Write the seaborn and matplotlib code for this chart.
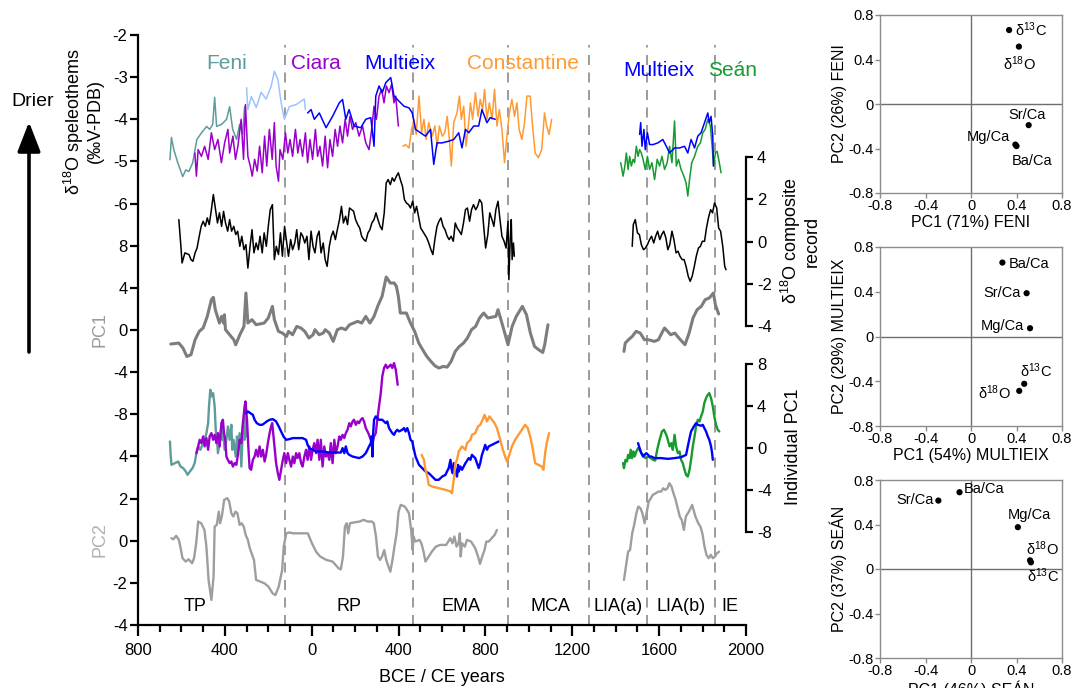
import matplotlib
matplotlib.use("Agg")
import matplotlib.pyplot as plt
import seaborn as sns
import pandas as pd
from matplotlib.transforms import blended_transform_factory as btf

sns.set_style("ticks", rc={"axes.edgecolor": "black", "xtick.color": "black",
                           "ytick.color": "black", "text.color": "black",
                           "axes.labelcolor": "black"})
plt.rcParams['font.family'] = ['Liberation Sans', 'DejaVu Sans']
plt.rcParams['axes.unicode_minus'] = False
plt.rcParams['mathtext.fontset'] = 'custom'
plt.rcParams['mathtext.rm'] = 'Liberation Sans'
plt.rcParams['mathtext.it'] = 'Liberation Sans:italic'

# ------------------------------------------------------------------ data
# delta18O speleothem records (year CE, permil)
feni_d18o = [(-653,-4.96),(-646,-4.43),(-635,-4.72),(-617,-5.03),(-594,-5.36),(-580,-5.20),(-566,-5.24),
             (-548,-5.03),(-529,-4.48),(-506,-4.31),(-484,-4.17),(-470,-4.24),(-456,-4.12),(-447,-3.48),
             (-438,-4.17),(-415,-4.12),(-392,-4.00),(-378,-3.70),(-364,-4.24),(-346,-4.48),(-332,-4.12),
             (-318,-4.36),(-309,-3.70)]
multieix_lr_d18o = [(-300,-3.25),(-294,-3.77),(-278,-3.46),(-255,-3.72),(-233,-3.36),(-210,-3.52),(-187,-3.22),
                    (-172,-2.86),(-156,-3.05),(-141,-3.60),(-126,-4.00),(-103,-3.70),(-72,-3.65),(-34,-3.52),(-29,-3.77)]
ciara_d18o = [(-538,-4.80),(-531,-5.35),(-523,-4.72),(-508,-4.88),(-493,-4.64),(-477,-4.95),(-462,-4.32),(-447,-4.72),
              (-432,-4.48),(-416,-5.03),(-401,-4.56),(-386,-4.24),(-378,-4.80),(-363,-4.40),(-351,-4.95),(-340,-4.64),
              (-325,-4.00),(-314,-4.95),(-305,-3.65),(-294,-4.88),(-283,-5.11),(-274,-5.35),(-263,-4.95),(-251,-5.23),
              (-240,-4.64),(-228,-5.27),(-217,-4.40),(-207,-5.11),(-195,-4.24),(-182,-4.95),(-172,-4.08),(-164,-5.11),
              (-153,-5.47),(-146,-4.72),(-133,-4.95),(-121,-4.32),(-110,-4.80),(-100,-4.48),(-88,-4.88),(-75,-4.24),
              (-64,-4.80),(-54,-4.48),(-42,-4.88),(-29,-4.32),(-19,-5.03),(-8,-4.48),(4,-4.95),(17,-4.24),(27,-4.88),
              (38,-4.64),(50,-5.11),(62,-4.40),(73,-5.15),(84,-4.48),(96,-4.88),(108,-4.24),(119,-4.64),(130,-4.16),
              (142,-4.56),(154,-4.00),(165,-4.40),(176,-3.93),(188,-4.24),(203,-4.08),(218,-4.40),(234,-4.16),
              (249,-4.56),(264,-4.72),(276,-4.24),(287,-3.69),(298,-4.00),(310,-3.45),(322,-3.29),(333,-3.61),
              (344,-3.21),(356,-3.37),(368,-3.17),(379,-3.61),(387,-3.45),(399,-4.16)]
multieix_d18o = [(-19,-3.85),(-3,-3.77),(12,-4.00),(35,-3.85),(66,-4.20),(96,-3.93),(127,-3.61),(142,-3.53),
                 (157,-4.00),(172,-3.77),(195,-4.16),(226,-4.20),(249,-4.00),(272,-3.96),(287,-4.64),(295,-3.45),
                 (310,-3.21),(325,-3.37),(341,-3.13),(364,-3.01),(379,-3.45),(402,-3.57),(425,-3.69),(448,-3.73),
                 (463,-3.85),(478,-4.24),(501,-4.32),(524,-4.40),(547,-4.24),(562,-5.07),(577,-4.56),(600,-4.56),
                 (631,-4.52),(654,-4.48),(677,-4.32),(692,-4.68),(708,-4.24),(723,-4.32),(746,-4.16),(769,-4.16),
                 (784,-3.77),(807,-4.08),(822,-3.96),(845,-4.00)]
constantine_d18o = [(420,-4.64),(432,-4.60),(448,-4.68),(460,-4.24),(471,-4.00),(481,-4.36),(494,-3.45),(506,-4.32),
                    (517,-4.00),(527,-4.48),(539,-4.08),(555,-4.40),(567,-4.16),(578,-4.64),(588,-4.16),(601,-4.40),
                    (613,-4.32),(624,-3.93),(634,-4.48),(643,-5.11),(654,-4.08),(669,-3.85),(680,-3.45),(689,-4.00),
                    (700,-3.69),(711,-4.64),(723,-4.08),(731,-3.61),(741,-4.00),(754,-3.37),(766,-3.93),(776,-3.53),
                    (787,-3.77),(796,-3.29),(807,-4.00),(818,-3.61),(830,-4.00),(842,-3.29),(853,-4.16),(864,-3.77),
                    (876,-4.24),(888,-5.03),(899,-4.40),(910,-3.85),(922,-3.53),(934,-3.93),(945,-3.61),(955,-4.24),
                    (968,-4.48),(980,-4.08),(991,-3.45),(1006,-3.45),(1017,-4.16),(1029,-4.80),(1044,-4.91),
                    (1059,-4.72),(1072,-3.85),(1082,-4.16),(1093,-4.36),(1105,-4.00)]
sean_d18o = [(1423,-5.03),(1434,-5.35),(1442,-5.11),(1449,-4.80),(1457,-5.19),(1464,-4.88),(1472,-5.11),(1480,-4.95),
             (1487,-5.03),(1495,-4.64),(1503,-4.88),(1510,-4.72),(1518,-4.80),(1526,-4.95),(1536,-5.19),(1546,-4.88),
             (1556,-5.19),(1567,-5.03),(1579,-5.43),(1591,-4.95),(1602,-5.11),(1613,-4.88),(1625,-5.19),(1637,-5.03),
             (1648,-4.64),(1659,-5.03),(1671,-4.04),(1679,-5.11),(1689,-4.95),(1701,-5.19),(1714,-5.35),(1724,-5.51),
             (1732,-5.82),(1740,-5.43),(1750,-5.03),(1763,-4.88),(1778,-4.64),(1790,-4.56),(1801,-4.32),(1812,-4.24),
             (1824,-4.00),(1836,-4.16),(1844,-4.64),(1851,-5.11),(1859,-4.80),(1867,-4.76),(1877,-5.03),(1885,-5.27)]
multieix2_d18o = [(1510,-4.36),(1515,-4.08),(1521,-4.64),(1530,-4.24),(1536,-4.72),(1546,-4.32),(1556,-4.60),
                  (1572,-4.60),(1594,-4.56),(1617,-4.48),(1633,-4.64),(1648,-4.80),(1671,-4.68),(1694,-4.68),
                  (1717,-4.64),(1732,-4.80),(1747,-4.48),(1763,-4.68),(1778,-4.40),(1793,-4.32),(1809,-4.08),
                  (1824,-3.85),(1831,-4.08),(1839,-3.93),(1847,-4.40),(1850,-5.11)]

# delta18O composite record
composite_a = [(-612,1.04),(-603,-0.15),(-597,-1.02),(-584,-0.54),(-565,-0.62),(-556,-0.86),(-547,-0.94),(-537,-0.54),
               (-528,-0.31),(-518,0.25),(-509,0.72),(-500,0.96),(-490,0.72),(-481,1.12),(-472,0.80),(-462,1.51),
               (-453,2.23),(-444,1.59),(-434,0.88),(-425,1.36),(-415,0.72),(-406,1.43),(-397,0.88),(-387,0.49),
               (-378,1.04),(-369,0.49),(-359,0.72),(-350,0.33),(-341,0.49),(-331,-0.23),(-322,0.25),(-312,-0.39),
               (-303,-0.15),(-294,-1.26),(-284,-0.23),(-275,0.56),(-266,-0.54),(-256,-0.07),(-247,-0.39),(-238,0.25),
               (-228,-0.54),(-219,0.41),(-209,-0.23),(-200,0.72),(-191,1.51),(-181,1.75),(-172,-0.86),(-163,-0.23),
               (-153,-0.62),(-144,0.41),(-135,-0.70),(-125,0.72),(-116,0.01),(-107,-0.70),(-97,0.09),(-88,-0.39),
               (-78,-0.07),(-69,0.56),(-60,-0.39),(-50,0.41),(-41,0.25),(-32,-0.07),(-22,0.25),(-13,-0.86),(-3,0.49),
               (6,-0.23),(15,-0.54),(25,0.25),(34,0.49),(43,-0.54),(53,-0.07),(62,-0.86),(71,-1.18),(81,-0.23),
               (90,0.25),(99,0.49),(109,0.09),(118,0.56),(128,1.04),(137,1.67),(146,0.88),(156,1.20),(165,0.80),
               (174,1.59),(184,1.51),(193,1.43),(202,1.04),(212,0.80),(221,0.64),(230,0.25),(240,0.09),(249,0.01),
               (259,0.41),(268,0.56),(277,0.88),(287,1.04),(296,1.36),(305,1.04),(315,0.72),(324,0.56),(334,1.36),
               (343,2.78),(352,2.94),(362,2.70),(371,3.02),(380,2.86),(390,3.10),(399,3.26),(408,2.94),(418,2.62),
               (427,1.99),(436,1.83),(446,1.75),(455,1.59),(465,1.91),(474,1.36),(483,1.67),(493,1.12),(502,0.64),
               (511,0.49),(521,0.33),(530,0.17),(539,-0.07),(549,-0.39),(558,-0.62),(567,0.09),(577,0.72),(586,0.96),
               (595,1.12),(605,0.72),(614,0.56),(624,0.25),(633,0.09),(642,0.25),(652,0.01),(661,0.88),(670,0.64),
               (680,0.49),(689,0.33),(699,0.88),(708,1.51),(717,1.59),(727,0.96),(736,1.51),(745,1.75),(755,1.51),
               (764,1.67),(773,1.99),(783,1.83),(792,0.72),(801,-0.31),(811,0.33),(820,1.36),(830,1.04),(839,0.72),
               (848,1.51),(858,1.91),(867,1.04),(876,0.25),(886,0.01),(895,-0.31),(904,0.96),(908,-1.81),(914,0.09),
               (919,1.04),(923,-0.86),(929,-0.07),(933,-0.70)]
composite_b = [(1476,-0.23),(1481,0.80),(1490,1.04),(1500,0.41),(1509,0.33),(1518,-0.15),(1528,-0.39),(1537,-0.31),
               (1546,-0.15),(1556,0.09),(1565,0.25),(1575,-0.07),(1584,0.25),(1593,0.49),(1603,0.09),(1612,0.33),
               (1621,0.49),(1631,0.17),(1640,-0.39),(1649,-0.15),(1659,0.49),(1668,0.09),(1678,-0.54),(1687,-0.46),
               (1696,-0.70),(1706,-0.86),(1715,-0.86),(1724,-1.18),(1734,-1.65),(1743,-1.89),(1752,-1.65),(1762,-1.18),
               (1771,-0.70),(1781,-0.31),(1790,-0.23),(1799,0.01),(1809,0.01),(1818,0.64),(1827,1.12),(1837,1.51),
               (1846,1.36),(1855,1.83),(1865,1.59),(1874,0.64),(1883,0.49),(1893,-0.23),(1902,-1.18),(1908,-1.34)]

# PC1 (stack)
pc1_a = [(-649,-1.33),(-612,-1.24),(-593,-1.71),(-575,-2.51),(-556,-2.35),(-537,-0.92),(-518,-0.13),(-500,0.19),
         (-481,1.29),(-462,2.88),(-453,3.10),(-444,1.93),(-425,0.66),(-415,1.29),(-406,0.66),(-402,1.45),(-397,0.03),
         (-378,-0.45),(-359,-0.92),(-350,-1.40),(-331,-0.45),(-312,0.34),(-303,3.51),(-294,0.66),(-275,0.98),
         (-256,0.50),(-219,0.66),(-200,1.14),(-181,2.24),(-172,0.98),(-153,-0.13),(-135,-0.29),(-116,-0.61),
         (-107,-0.13),(-88,-0.45),(-69,0.34),(-50,0.19),(-32,-0.13),(-13,-0.76),(6,-0.45),(15,0.03),(34,-0.45),
         (53,-0.29),(62,0.03),(81,-0.29),(99,-1.08),(118,0.03),(137,0.19),(156,0.03),(174,0.50),(193,0.66),
         (212,0.82),(230,0.66),(249,1.29),(268,0.66),(287,1.29),(305,2.31),(324,3.19),(343,5.03),(362,4.46),
         (380,4.46),(390,4.15),(399,3.19),(408,1.61),(436,1.61),(455,0.66),(474,-0.13),(493,-1.24),(511,-1.87),
         (530,-2.51),(549,-2.98),(567,-3.39),(586,-3.61),(605,-3.46),(624,-3.52),(642,-2.98),(661,-2.03),
         (680,-1.56),(699,-1.24),(717,-0.76),(736,0.03),(755,0.34),(773,1.14),(792,1.61),(811,1.14),(848,1.29),
         (858,1.93),(876,0.66),(904,-1.40),(923,0.34),(942,1.29),(970,2.24),(989,1.45),(1007,-0.29),(1026,-1.56),
         (1045,-1.87),(1064,-2.13),(1073,-1.40),(1088,0.50)]
pc1_b = [(1438,-2.03),(1444,-1.24),(1459,-0.92),(1476,-0.61),(1494,-0.13),(1513,-0.29),(1532,-0.92),(1550,-0.92),
         (1578,-1.08),(1597,-0.92),(1616,-0.13),(1625,0.19),(1653,-0.45),(1672,-0.29),(1691,-0.76),(1719,-1.40),
         (1738,-0.29),(1756,1.14),(1775,1.93),(1794,2.24),(1812,2.88),(1831,3.04),(1850,3.51),(1859,2.40),(1874,1.52)]

# PC2 (stack)
pc2_a = [(-646,0.12),(-637,0.07),(-624,0.23),(-612,0.04),(-605,-0.28),(-595,-0.83),(-580,-0.99),(-567,-0.88),
         (-551,-1.07),(-542,-0.83),(-532,-0.12),(-523,0.91),(-509,0.83),(-494,0.51),(-485,-0.28),(-475,-1.86),
         (-462,-2.81),(-452,-1.70),(-447,0.67),(-437,0.75),(-428,1.38),(-422,0.83),(-414,1.15),(-403,1.94),
         (-389,2.02),(-380,1.86),(-370,1.30),(-361,1.15),(-351,1.38),(-342,1.30),(-332,0.75),(-323,0.83),
         (-313,0.67),(-304,0.27),(-294,0.04),(-285,-0.36),(-266,-0.91),(-256,-1.86),(-237,-1.94),(-218,-2.02),
         (-199,-2.18),(-180,-2.50),(-167,-2.58),(-152,-2.18),(-136,-1.39),(-129,-0.28),(-117,0.35),(-104,0.39),
         (-85,0.35),(-56,0.35),(-18,0.35),(1,-0.12),(20,-0.52),(39,-0.75),(67,-0.91),(96,-0.99),(124,-1.31),
         (134,-1.36),(144,-0.75),(153,0.67),(161,0.83),(168,0.35),(176,0.83),(191,0.86),(220,0.91),(239,0.99),
         (258,0.91),(277,0.91),(286,0.83),(296,0.20),(305,-0.75),(315,-0.91),(324,-0.75),(334,-0.44),(343,-0.91),
         (362,-1.47),(372,-0.91),(381,-0.28),(391,0.35),(400,1.38),(410,1.70),(429,1.62),(439,1.46),(448,1.30),
         (458,0.51),(465,-0.44),(469,0.20),(477,-0.04),(496,0.04),(505,-0.12),(515,-0.52),(524,-0.99),(534,-0.83),
         (553,-0.52),(572,-0.28),(591,-0.20),(619,-0.20),(629,-0.04),(638,0.12),(648,-0.12),(657,0.20),(667,-0.28),
         (676,-0.12),(682,0.35),(686,-0.75),(692,-0.12),(705,-0.28),(715,0.04),(734,-0.04),(753,-0.36),(766,-0.75),
         (775,-1.10),(785,-0.75),(796,-0.44),(804,-0.04),(815,-0.04),(829,0.12),(842,0.27),(853,0.51)]
pc2_b = [(1438,-1.86),(1447,-1.23),(1457,-0.52),(1466,-0.44),(1476,0.35),(1485,0.75),(1495,1.30),(1504,1.62),
         (1514,1.54),(1523,1.30),(1533,0.83),(1542,1.30),(1552,1.86),(1562,2.02),(1571,2.18),(1584,2.25),
         (1596,2.33),(1609,2.33),(1619,2.49),(1628,2.41),(1638,2.49),(1647,2.73),(1657,2.57),(1666,2.25),
         (1676,1.94),(1695,1.15),(1704,0.99),(1714,0.51),(1723,1.15),(1737,1.38),(1752,1.70),(1767,1.15),
         (1780,0.83),(1790,0.67),(1799,0.35),(1809,-0.28),(1818,-0.67),(1828,-0.83),(1838,-0.67),(1847,-0.83),
         (1857,-0.75),(1866,-0.60),(1876,-0.52)]

# Individual PC1 of each speleothem
feni_pc1 = [(-653,0.62),(-650,-0.49),(-646,-1.60),(-630,-1.44),(-615,-1.28),(-604,-1.76),(-592,-1.91),(-580,-2.23),
            (-572,-2.55),(-561,-2.23),(-549,-1.91),(-539,-1.44),(-531,-0.49),(-523,0.15),(-513,-0.17),(-500,0.46),
            (-493,0.78),(-485,1.41),(-477,2.36),(-473,3.95),(-467,5.53),(-461,4.90),(-454,5.21),(-447,3.95),
            (-442,1.73),(-436,0.78),(-432,-0.49),(-424,0.46),(-416,2.05),(-412,0.78),(-406,1.10),(-401,-0.17),
            (-393,0.78),(-386,2.05),(-378,0.78),(-370,2.20),(-366,-0.17),(-360,0.78),(-350,-0.81),(-344,1.10),
            (-340,-0.17),(-332,1.41),(-324,-1.76),(-317,2.05),(-309,0.78),(-305,4.10),(-302,1.10)]
ciara_pc1 = [(-531,-0.49),(-523,0.15),(-516,0.78),(-508,0.46),(-500,1.10),(-493,0.15),(-485,0.94),(-477,-0.17),
             (-470,1.10),(-462,1.41),(-454,0.78),(-447,1.25),(-439,0.46),(-432,1.41),(-424,0.15),(-416,2.36),
             (-409,2.68),(-404,1.41),(-398,0.78),(-393,-0.81),(-386,-1.12),(-378,-1.44),(-370,-1.28),(-363,-1.76),
             (-355,-1.44),(-347,-1.60),(-340,-0.65),(-332,0.78),(-324,0.46),(-317,2.36),(-309,3.95),(-305,4.42),
             (-298,2.68),(-292,0.15),(-286,-1.91),(-279,-2.07),(-271,-1.12),(-263,-0.81),(-256,-0.17),(-248,-0.81),
             (-240,0.15),(-233,-0.81),(-225,-0.17),(-217,-1.28),(-210,-0.65),(-202,0.46),(-194,1.41),(-187,2.05),
             (-182,2.36),(-176,1.10),(-170,-0.17),(-164,-1.44),(-156,-2.39),(-149,-3.02),(-141,-2.07),(-133,-1.12),
             (-126,-0.49),(-118,-1.44),(-110,-0.49),(-103,-1.12),(-95,-1.76),(-87,-0.81),(-80,-1.44),(-72,-0.49),
             (-65,-0.96),(-57,-0.49),(-49,-1.44),(-42,-1.76),(-34,-0.81),(-26,-0.17),(-19,-1.12),(-11,0.15),
             (-3,-1.12),(4,-0.17),(12,0.46),(20,-0.49),(27,0.78),(35,-1.12),(42,0.78),(50,-1.76),(58,0.15),
             (65,-0.81),(73,-0.49),(81,-1.12),(88,0.46),(96,-1.44),(104,0.78),(111,-0.49),(119,0.15),(127,1.10),
             (134,0.78),(142,1.25),(150,0.94),(157,1.41),(165,1.73),(173,2.36),(180,2.05),(188,2.52),(195,2.68),
             (203,2.20),(211,2.52),(218,2.36),(226,2.68),(234,2.84),(241,2.52),(249,1.89),(257,1.57),(264,1.25),
             (272,0.78),(280,0.46),(287,1.10),(295,1.41),(302,2.68),(310,3.95),(318,5.21),(325,6.80),(333,7.59),
             (341,7.91),(348,7.59),(356,7.75),(364,7.91),(371,7.59),(379,8.06),(387,7.43),(391,6.80),(396,6.00)]
multieix_pc1 = [(-302,3.31),(-294,3.47),(-283,3.31),(-271,3.15),(-263,2.68),(-253,2.36),(-240,2.20),(-228,2.20),
                (-217,2.36),(-207,2.52),(-194,2.68),(-179,2.74),(-164,2.52),(-152,2.05),(-141,1.57),(-130,1.10),
                (-118,0.78),(-103,0.84),(-87,0.94),(-72,0.94),(-57,0.94),(-42,0.94),(-26,0.78),(-19,0.30),(-11,-0.01),
                (4,-0.17),(20,-0.33),(50,-0.33),(81,-0.43),(134,-0.43),(142,-0.01),(150,-0.49),(157,0.15),(165,-0.49),
                (173,-0.65),(188,-0.81),(218,-0.96),(234,-0.81),(249,-0.49),(264,0.15),(272,0.46),(276,1.10),
                (280,-0.81),(283,1.41),(287,2.68),(295,3.00),(310,2.68),(325,2.68),(341,2.36),(348,2.52),(356,1.89),
                (371,1.41),(379,1.25),(387,1.57),(394,1.73),(402,1.57),(417,1.73),(425,1.89),(432,1.57),(440,1.89),
                (448,1.41),(455,0.78),(463,0.62),(471,-0.17),(478,-0.81),(494,-1.60),(509,-1.91),(524,-2.23),
                (539,-2.39),(555,-2.71),(570,-3.02),(585,-3.02),(601,-2.71),(616,-2.55),(623,-2.23),(631,-1.91),
                (639,-1.12),(643,-1.91),(649,-2.39),(654,-1.44),(662,-2.07),(669,-2.71),(674,-1.60),(677,-2.23),
                (685,-1.76),(692,-2.07),(708,-1.44),(723,-0.96),(731,-1.12),(738,-0.65),(753,-0.96),(769,-1.91),
                (776,-1.44),(784,-0.65),(792,-0.17),(799,0.30),(807,-0.17),(815,0.15),(830,0.30),(845,0.46),(861,0.62)]
constantine_pc1 = [(506,-0.65),(517,-1.12),(524,-2.07),(532,-2.71),(539,-3.50),(555,-3.66),(585,-3.81),(616,-3.97),
                   (639,-4.13),(646,-4.29),(654,-3.02),(662,-1.44),(669,-1.12),(677,-0.33),(692,0.15),(708,-0.17),
                   (715,0.46),(731,0.78),(738,1.25),(753,1.41),(766,2.05),(776,2.20),(787,2.68),(796,3.15),(807,2.52),
                   (818,3.00),(830,2.68),(842,2.36),(853,1.89),(864,1.10),(876,0.15),(888,-0.65),(899,-1.28),
                   (910,-0.65),(922,0.15),(937,0.78),(952,1.25),(968,1.73),(983,2.20),(995,1.89),(1006,1.10),
                   (1016,0.15),(1029,-1.44),(1044,-1.60),(1059,-1.76),(1067,-2.07),(1075,-0.49),(1082,0.46),(1093,1.41)]
multieix2_pc1 = [(1503,0.46),(1510,-0.01),(1518,-0.49),(1526,-0.81),(1533,-0.65),(1541,-0.49),(1549,-0.65),
                 (1556,-0.81),(1564,-0.81),(1579,-0.96),(1610,-0.96),(1640,-1.03),(1671,-0.96),(1701,-0.87),
                 (1724,-0.65),(1732,0.15),(1740,0.94),(1747,1.57),(1760,2.05),(1770,2.36),(1778,2.20),(1793,2.11),
                 (1801,2.20),(1808,1.89),(1816,1.57),(1824,1.10),(1831,0.78),(1839,0.15),(1844,-0.49),(1847,-1.12)]
sean_pc1 = [(1434,-1.44),(1438,-1.91),(1445,-1.12),(1452,-1.28),(1457,-0.65),(1464,-0.96),(1469,-0.17),(1475,-0.96),
            (1481,-0.33),(1487,-0.81),(1495,-0.33),(1503,-0.01),(1510,-0.17),(1518,-0.49),(1526,-0.65),(1536,-0.96),
            (1549,-0.81),(1561,-0.96),(1572,-1.12),(1582,-1.19),(1591,-0.17),(1602,0.78),(1613,1.57),(1622,1.73),
            (1633,1.25),(1640,0.78),(1648,0.15),(1656,0.46),(1663,-0.17),(1671,1.25),(1678,0.15),(1686,-0.49),
            (1694,-0.33),(1701,-1.12),(1709,-1.44),(1717,-2.07),(1724,-2.55),(1732,-2.71),(1740,-2.07),(1747,-1.12),
            (1755,0.15),(1763,1.10),(1770,2.05),(1778,2.68),(1786,2.52),(1793,3.00),(1801,3.47),(1808,4.26),
            (1816,4.74),(1824,5.05),(1831,5.21),(1839,4.74),(1847,3.95),(1854,3.00),(1862,2.20),(1870,1.73),(1877,1.57)]

# period boundaries and names
period_bounds = [-124, 468, 904, 1279, 1543, 1856]
period_names = ['TP', 'RP', 'EMA', 'MCA', 'LIA(a)', 'LIA(b)', 'IE']
period_label_x = [-539, 172, 689, 1101, 1411, 1700, 1925]
record_names = ['Feni', 'Ciara', 'Multieix', 'Constantine', 'Multieix', 'Seán']
record_label_x = [-393, 20, 405, 975, 1597, 1938]
x_ticks = [-800, -400, 0, 400, 800, 1200, 1600, 2000]
x_tick_labels = ['800', '400', '0', '400', '800', '1200', '1600', '2000']
x_minor = [-700, -600, -500, -300, -200, -100, 100, 200, 300, 500, 600, 700, 900, 1000, 1100,
           1300, 1400, 1500, 1700, 1800, 1900]

# PCA loadings
pca_vars_feni = ['δ$^{13}$C', 'δ$^{18}$O', 'Sr/Ca', 'Mg/Ca', 'Ba/Ca']
pca_feni_pc1 = [0.335, 0.421, 0.507, 0.390, 0.400]
pca_feni_pc2 = [0.665, 0.516, -0.190, -0.365, -0.378]
pca_vars_mult = ['Ba/Ca', 'Sr/Ca', 'Mg/Ca', 'δ$^{13}$C', 'δ$^{18}$O']
pca_mult_pc1 = [0.276, 0.489, 0.519, 0.468, 0.424]
pca_mult_pc2 = [0.661, 0.387, 0.074, -0.423, -0.486]
pca_vars_sean = ['Sr/Ca', 'Ba/Ca', 'Mg/Ca', 'δ$^{18}$O', 'δ$^{13}$C']
pca_sean_pc1 = [-0.287, -0.101, 0.412, 0.519, 0.527]
pca_sean_pc2 = [0.615, 0.690, 0.376, 0.078, 0.060]
pca_ticks = [-0.8, -0.4, 0, 0.4, 0.8]
pca_tick_labels = ['-0.8', '-0.4', '0', '0.4', '0.8']

# colours
C_FENI, C_CIARA, C_MULT, C_MULT_LR = '#5e9c9c', '#9900cc', '#0000ff', '#9cc3ff'
C_CONST, C_SEAN, C_PC1, C_PC2 = '#ff9a33', '#179a2f', '#7d7d7d', '#9e9e9e'

# ------------------------------------------------------------------ figure
W, H = 1072, 688
fig = plt.figure(figsize=(W / 100, H / 100), dpi=100)


def frect(x0, y0, x1, y1):
    return [x0 / W, 1 - y1 / H, (x1 - x0) / W, (y1 - y0) / H]


def fxy(x, y):
    return (x / W, 1 - y / H)


MAIN = frect(138, 35, 746, 625)
base = fig.add_axes(MAIN)
base.set_xlim(-800, 2000)
base.set_ylim(0, 1)
base.patch.set_alpha(0)
for s in ['top', 'right', 'left']:
    base.spines[s].set_visible(False)
base.spines['bottom'].set_linewidth(1.6)
base.set_yticks([])
base.set_xticks(x_ticks)
base.set_xticklabels(x_tick_labels)
base.set_xticks(x_minor, minor=True)
base.tick_params(axis='x', which='major', length=8, width=1.6, labelsize=12, pad=5)
base.tick_params(axis='x', which='minor', length=5, width=1.6)
base.set_xlabel('BCE / CE years', fontsize=13, labelpad=8)

for b in period_bounds:
    base.axvline(b, ymin=0, ymax=0.983, color='#8a8a8a', lw=1.2, dashes=(6, 4.5), zorder=0)

tr = btf(base.transData, base.transAxes)
for name, xx in zip(period_names, period_label_x):
    base.text(xx, 0.031, name, transform=tr, ha='center', va='center', fontsize=13)
rec_colors = [C_FENI, C_CIARA, C_MULT, C_CONST, C_MULT, C_SEAN]
rec_y = [0.9525, 0.9525, 0.9525, 0.9525, 0.939, 0.939]
for name, xx, c, yy in zip(record_names, record_label_x, rec_colors, rec_y):
    base.text(xx, yy, name, transform=tr, ha='center', va='center', fontsize=15, color=c)


def overlay(ylim):
    a = fig.add_axes(MAIN)
    a.patch.set_alpha(0)
    for s in a.spines.values():
        s.set_visible(False)
    a.set_xticks([])
    a.set_yticks([])
    a._ylim_wanted = ylim
    return a


def line(a, pairs, color, lw, z=2):
    d = pd.DataFrame(pairs, columns=['year', 'value'])
    sns.lineplot(data=d, x='year', y='value', ax=a, color=color, linewidth=lw,
                 estimator=None, sort=False, legend=False, zorder=z)


def finish(a, side=None, bounds=None, ticks=None):
    a.set_xlim(-800, 2000)
    a.set_ylim(*a._ylim_wanted)
    a.set_xlabel('')
    a.set_ylabel('')
    a.set_xticks([])
    if side:
        a.spines[side].set_visible(True)
        a.spines[side].set_linewidth(1.6)
        a.spines[side].set_bounds(*bounds)
        a.set_yticks(ticks)
        a.set_yticklabels([str(t) for t in ticks])
        if side == 'right':
            a.yaxis.tick_right()
            a.tick_params(axis='y', length=5, width=1.6, labelsize=12, pad=3)
        else:
            a.tick_params(axis='y', length=6, width=1.6, labelsize=12, pad=1.5)
    else:
        a.set_yticks([])


ax_top = overlay((-16, -2))
ax_comp = overlay((-18.2, 9.8))
ax_pc1 = overlay((-28, 28))
ax_ind = overlay((-16.8, 39.2))
ax_pc2 = overlay((-4, 24))

line(ax_top, feni_d18o, C_FENI, 1.1)
line(ax_top, multieix_lr_d18o, C_MULT_LR, 1.1)
line(ax_top, ciara_d18o, C_CIARA, 1.1)
line(ax_top, constantine_d18o, C_CONST, 1.1)
line(ax_top, multieix_d18o, C_MULT, 1.1)
line(ax_top, sean_d18o, C_SEAN, 1.1)
line(ax_top, multieix2_d18o, C_MULT, 1.1)

line(ax_comp, composite_a, 'black', 1.1)
line(ax_comp, composite_b, 'black', 1.1)

line(ax_pc1, pc1_a, C_PC1, 2.2)
line(ax_pc1, pc1_b, C_PC1, 2.2)

line(ax_ind, feni_pc1, C_FENI, 1.7)
line(ax_ind, ciara_pc1, C_CIARA, 1.7)
line(ax_ind, multieix_pc1, C_MULT, 1.7)
line(ax_ind, constantine_pc1, C_CONST, 1.7)
line(ax_ind, sean_pc1, C_SEAN, 1.7)
line(ax_ind, multieix2_pc1, C_MULT, 1.7)

line(ax_pc2, pc2_a, C_PC2, 1.7)
line(ax_pc2, pc2_b, C_PC2, 1.7)

finish(ax_top, 'left', (-7, -2), [-6, -5, -4, -3, -2])
finish(ax_pc1, 'left', (-12, 8), [-8, -4, 0, 4, 8])
finish(ax_pc2, 'left', (-4, 4), [-4, -2, 0, 2, 4])
finish(ax_comp, 'right', (-4, 4), [-4, -2, 0, 2, 4])
finish(ax_ind, 'right', (-8, 8), [-8, -4, 0, 4, 8])

# side labels
fig.text(*fxy(83, 121), 'δ$^{18}$O speleothems\n(‰V-PDB)', rotation=90, ha='center', va='center',
         fontsize=13, multialignment='center', linespacing=1.1)
fig.text(*fxy(100, 330), 'PC1', rotation=90, ha='center', va='center', fontsize=13, color='#9a9a9a')
fig.text(*fxy(100, 540), 'PC2', rotation=90, ha='center', va='center', fontsize=13, color='#b0b0b0')
fig.text(*fxy(800, 241), 'δ$^{18}$O composite\nrecord', rotation=90, ha='center', va='center',
         fontsize=13, multialignment='center', linespacing=1.1)
fig.text(*fxy(793, 447), 'Individual PC1', rotation=90, ha='center', va='center', fontsize=13)
fig.text(*fxy(33, 101), 'Drier', ha='center', va='center', fontsize=14)
base.annotate('', xy=fxy(29, 122), xycoords='figure fraction', xytext=fxy(29, 352),
              textcoords='figure fraction', annotation_clip=False,
              arrowprops=dict(arrowstyle='-|>,head_length=0.9,head_width=0.35', lw=2.6,
                              color='black', mutation_scale=20, shrinkA=0, shrinkB=0))


# ------------------------------------------------------------------ PCA panels
def pca_panel(rect, names, xs, ys, offsets, xlabel, ylabel):
    a = fig.add_axes(frect(*rect))
    d = pd.DataFrame({'pc1': xs, 'pc2': ys, 'var': names})
    a.axhline(0, color='#6e6e6e', lw=1, zorder=1)
    a.axvline(0, color='#6e6e6e', lw=1, zorder=1)
    sns.scatterplot(data=d, x='pc1', y='pc2', ax=a, color='black', s=20, edgecolor='none',
                    legend=False, zorder=3)
    a.set_xlim(-0.8, 0.8)
    a.set_ylim(-0.8, 0.8)
    a.set_xticks(pca_ticks)
    a.set_xticklabels(pca_tick_labels)
    a.set_yticks(pca_ticks)
    a.set_yticklabels(pca_tick_labels)
    for s in a.spines.values():
        s.set_visible(True)
        s.set_color('#8c8c8c')
        s.set_linewidth(1)
    a.tick_params(length=3.5, width=1, color='#8c8c8c', labelsize=10.5, pad=1)
    a.set_xlabel(xlabel, fontsize=11.5, labelpad=1.5)
    a.set_ylabel(ylabel, fontsize=11.5, labelpad=1)
    for (nm, x, y, (dx, dy, ha)) in zip(names, xs, ys, offsets):
        a.annotate(nm, (x, y), xytext=(dx * 0.72, dy * 0.72), textcoords='offset points',
                   ha=ha, va='center', fontsize=10.5)
    return a


pca_panel((880, 15, 1062, 193), pca_vars_feni, pca_feni_pc1, pca_feni_pc2,
          [(6, 0, 'left'), (1, -17, 'center'), (-2, 10, 'center'), (-5, 8, 'right'), (16, -15, 'center')],
          'PC1 (71%) FENI', 'PC2 (26%) FENI')
pca_panel((880, 247, 1062, 426), pca_vars_mult, pca_mult_pc1, pca_mult_pc2,
          [(6, -1, 'left'), (-6, 0, 'right'), (-6, 2, 'right'), (12, 13, 'center'), (-8, -2, 'right')],
          'PC1 (54%) MULTIEIX', 'PC2 (29%) MULTIEIX')
pca_panel((880, 480, 1062, 658), pca_vars_sean, pca_sean_pc1, pca_sean_pc2,
          [(-5, 1, 'right'), (4, 3, 'left'), (12, 12, 'center'), (12, 12, 'center'), (12, -13, 'center')],
          'PC1 (46%) SEÁN', 'PC2 (37%) SEÁN')

fig.savefig('out.png', dpi=100)
